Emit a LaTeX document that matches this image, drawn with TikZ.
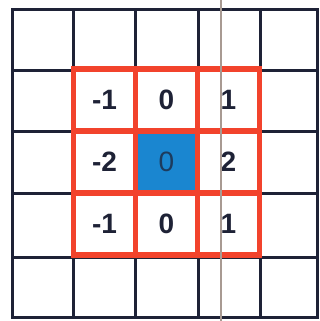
\documentclass[tikz,border=0pt]{standalone}
\usepackage{fontspec}
\setsansfont{Liberation Sans}
\usetikzlibrary{positioning}
\definecolor{gridnavy}{HTML}{1E2236}
\definecolor{kernred}{HTML}{F2432C}
\definecolor{pixblue}{HTML}{1A86D0}
\definecolor{rulegrey}{HTML}{A89A92}
\begin{document}
\begin{tikzpicture}[x=1pt, y=-1pt, node distance=0pt,
  gridline/.style={draw=gridnavy,line width=3pt,line cap=rect},
  kcell/.style={rectangle,draw=kernred,line width=5.5pt,minimum width=62pt,minimum height=62pt,inner sep=0pt,outer sep=0pt,font=\sffamily\bfseries\fontsize{28}{28}\selectfont,text=gridnavy},
  centre/.style={fill=pixblue,text=gridnavy!75!pixblue,font=\sffamily\fontsize{28}{28}\selectfont}]
\fill[white] (0,0) rectangle (320,321);
\useasboundingbox (0,0) rectangle (320,321);
% image grid
\draw[gridline] (12,10) rectangle (317,317);
\foreach \gx in {73,135,198,260}
  \draw[gridline] (\gx,10) -- (\gx,317);
\foreach \gy in {70,131,193,257}
  \draw[gridline] (12,\gy) -- (317,\gy);
% kernel
\node[kcell,centre] (mid) at (166.5,162) {0};
\node[kcell, left=of mid] (ml) {-2};
\node[kcell, right=of mid] (mr) {2};
\node[kcell, above=of mid] (tm) {0};
\node[kcell, left=of tm] (tl) {-1};
\node[kcell, right=of tm] (tr) {1};
\node[kcell, below=of mid] (bm) {0};
\node[kcell, left=of bm] (bl) {-1};
\node[kcell, right=of bm] (br) {1};
% stray rule
\draw[rulegrey,line width=1.8pt] (221,0) -- (221,321);
\end{tikzpicture}
\end{document}
